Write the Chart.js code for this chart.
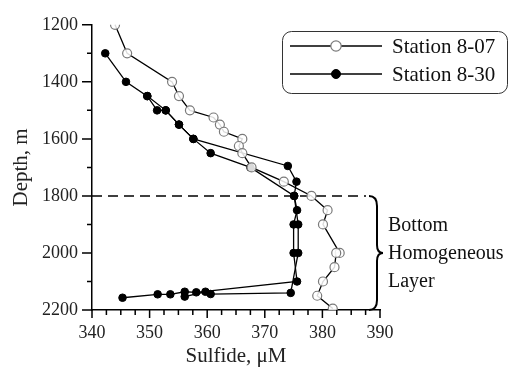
<!DOCTYPE html>
<html>
<head>
<meta charset="utf-8">
<script src="https://cdn.jsdelivr.net/npm/chart.js@4.4.1/dist/chart.umd.min.js"></script>
<style>
  html, body { margin:0; padding:0; background:#fff; }
  #wrap { width:520px; height:371px; }
</style>
</head>
<body>
<div id="wrap"><canvas id="c" width="520" height="371"></canvas></div>
<script>
/* ---- data ---- */
const depth807 = [1200,1300,1400,1450,1500,1525,1550,1575,1600,1625,1650,1700,1750,1800,1850,1900,2000,2000,2050,2100,2150,2195];
const sulf807  = [344.0,346.1,353.9,355.1,357.0,361.1,362.2,362.9,366.1,365.5,366.1,367.7,373.3,378.1,380.9,380.1,383.0,382.4,382.1,380.1,379.1,381.8];

// station 8-30, first profile
const depth830a = [1300,1400,1450,1500,1500,1550,1600,1695,1750,1800,1850,1900,2000,2100,2138,2136,2145,2145,2157];
const sulf830a  = [342.3,345.9,349.6,351.3,352.8,355.1,357.6,374.0,375.5,375.1,375.6,375.0,375.0,375.6,358.1,356.1,353.6,351.4,345.3];
// station 8-30, second profile
const depth830b = [1450,1500,1550,1600,1650,1700,1800,1900,2000,2140,2144,2136,2153];
const sulf830b  = [349.6,352.8,355.1,357.6,360.6,367.5,375.1,375.8,375.8,374.5,360.6,359.7,356.1];

const seriesLabels = ['Station 8-07', 'Station 8-30'];
const layerLabel = ['Bottom', 'Homogeneous', 'Layer'];
const layerTop = 1800, layerBottom = 2200;
const xTitle = 'Sulfide, \u03bcM', yTitle = 'Depth, m';

const pts = (xs, ys) => xs.map((v,i) => ({ x: v, y: ys[i] }));
const SERIF = '"Liberation Serif", "DejaVu Serif", serif';

const openStyle = { borderColor:'#000', borderWidth:1.3, pointRadius:4.5, pointBorderColor:'#7a7a7a', pointBackgroundColor:'rgba(255,255,255,0.85)', pointBorderWidth:1.2 };
const fillStyle = { borderColor:'#000', borderWidth:1.3, pointRadius:3.8, pointBorderColor:'#000', pointBackgroundColor:'#000', pointBorderWidth:1 };

/* ---- axis ticks (major/minor lengths differ) ---- */
const tickMarks = {
  id: 'tickMarks',
  afterDraw(chart) {
    const ctx = chart.ctx, {x, y} = chart.scales;
    ctx.save();
    ctx.strokeStyle = '#000'; ctx.lineWidth = 1.5;
    ctx.beginPath();
    y.ticks.forEach(t => {
      const p = y.getPixelForValue(t.value);
      const len = (Math.round(t.value) % 200 === 0) ? 10 : 5;
      ctx.moveTo(x.left, p); ctx.lineTo(x.left - len, p);
    });
    x.ticks.forEach(t => {
      const p = x.getPixelForValue(t.value);
      const len = (Math.abs(t.value % 10) < 1e-6) ? 8 : 5;
      ctx.moveTo(p, y.bottom); ctx.lineTo(p, y.bottom + len);
    });
    ctx.stroke();
    ctx.restore();
  }
};

/* ---- dashed line + brace + label ---- */
const layerMark = {
  id: 'layerMark',
  beforeDatasetsDraw(chart) {
    const ctx = chart.ctx, {y} = chart.scales, ca = chart.chartArea;
    const yt = y.getPixelForValue(layerTop);
    ctx.save();
    ctx.strokeStyle = '#000'; ctx.lineWidth = 1.5;
    ctx.setLineDash([10, 6]);
    ctx.beginPath(); ctx.moveTo(ca.left, yt); ctx.lineTo(ca.right - 14, yt); ctx.stroke();
    ctx.restore();
  },
  afterDraw(chart) {
    const ctx = chart.ctx, {y} = chart.scales, ca = chart.chartArea;
    const y1 = y.getPixelForValue(layerTop), y2 = y.getPixelForValue(layerBottom);
    const ym = (y1 + y2) / 2;
    const xl = ca.right - 11, xm = ca.right - 3, xt = ca.right + 3;
    ctx.save();
    ctx.strokeStyle = '#000'; ctx.lineWidth = 2;
    ctx.beginPath();
    ctx.moveTo(xl, y1);
    ctx.quadraticCurveTo(xm, y1, xm, y1 + 10);
    ctx.lineTo(xm, ym - 8);
    ctx.quadraticCurveTo(xm, ym, xt, ym);
    ctx.quadraticCurveTo(xm, ym, xm, ym + 8);
    ctx.lineTo(xm, y2 - 10);
    ctx.quadraticCurveTo(xm, y2, xl, y2);
    ctx.stroke();
    ctx.fillStyle = '#111';
    ctx.font = '20px ' + SERIF;
    ctx.textAlign = 'left'; ctx.textBaseline = 'middle';
    ctx.fillText(layerLabel[0], ca.right + 8, ym - 27);
    ctx.fillText(layerLabel[1], ca.right + 8, ym + 1);
    ctx.fillText(layerLabel[2], ca.right + 8, ym + 29);
    ctx.restore();
  }
};

/* ---- legend box: line with marker in the middle ---- */
const boxLegend = {
  id: 'boxLegend',
  afterDraw(chart) {
    const ctx = chart.ctx;
    const bx = 282, by = 31, bw = 225, bh = 62;
    ctx.save();
    ctx.strokeStyle = '#333'; ctx.lineWidth = 1;
    ctx.beginPath(); ctx.roundRect(bx + 0.5, by + 0.5, bw, bh, 9); ctx.stroke();
    const rows = [chart.data.datasets[0], chart.data.datasets[1]];
    rows.forEach((ds, i) => {
      const yy = by + 15 + i * 28;
      ctx.strokeStyle = '#000'; ctx.lineWidth = 1.3;
      ctx.beginPath(); ctx.moveTo(290, yy); ctx.lineTo(382, yy); ctx.stroke();
      ctx.beginPath(); ctx.arc(336, yy, ds.pointRadius + 0.7, 0, Math.PI * 2);
      ctx.fillStyle = i === 0 ? '#fff' : ds.pointBackgroundColor; ctx.fill();
      ctx.strokeStyle = ds.pointBorderColor; ctx.lineWidth = ds.pointBorderWidth; ctx.stroke();
      ctx.fillStyle = '#111';
      ctx.font = '21px ' + SERIF;
      ctx.textAlign = 'left'; ctx.textBaseline = 'middle';
      ctx.fillText(ds.label, 392, yy + 1);
    });
    ctx.restore();
  }
};

new Chart(document.getElementById('c'), {
  type: 'line',
  data: {
    datasets: [
      Object.assign({ label: seriesLabels[0], data: pts(sulf807, depth807) }, openStyle),
      Object.assign({ label: seriesLabels[1], data: pts(sulf830a, depth830a) }, fillStyle),
      Object.assign({ label: seriesLabels[1] + ' (2)', data: pts(sulf830b, depth830b) }, fillStyle)
    ]
  },
  options: {
    responsive: false,
    animation: false,
    layout: { padding: { left: 0, right: 140, top: 22, bottom: 0 } },
    plugins: { legend: { display: false }, tooltip: { enabled: false } },
    elements: { line: { tension: 0 } },
    scales: {
      x: {
        type: 'linear', min: 340, max: 390,
        grid: { display: false, drawTicks: false },
        border: { display: true, color: '#000', width: 1.5 },
        ticks: {
          stepSize: 2.5, autoSkip: false, maxRotation: 0, padding: 12,
          color: '#222', font: { family: SERIF, size: 18 },
          callback: v => (Math.abs(v % 10) < 1e-6) ? String(v) : ''
        },
        title: { display: true, text: xTitle, color: '#222', font: { family: SERIF, size: 21 }, padding: { top: 0, bottom: 2 } },
        afterFit: s => { s.height = 61; }
      },
      y: {
        type: 'linear', reverse: true, min: 1200, max: 2200,
        grid: { display: false, drawTicks: false },
        border: { display: true, color: '#000', width: 1.5 },
        ticks: {
          stepSize: 100, autoSkip: false, padding: 14,
          color: '#222', font: { family: SERIF, size: 18 },
          callback: v => (v % 200 === 0) ? String(v) : ''
        },
        title: { display: true, text: yTitle, color: '#222', font: { family: SERIF, size: 21 }, padding: { top: 9, bottom: 0 } },
        afterFit: s => { s.width = 92; }
      }
    }
  },
  plugins: [tickMarks, layerMark, boxLegend]
});
</script>
</body>
</html>
